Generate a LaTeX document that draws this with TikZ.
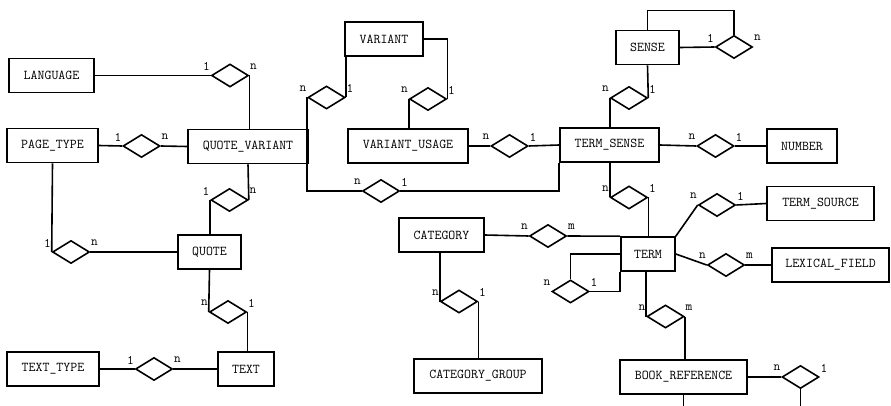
\documentclass[tikz,border=0pt]{standalone}
\usepackage{tikz}
\usetikzlibrary{shapes.geometric}

\begin{document}
\begin{tikzpicture}[x=1pt,y=-1pt,line width=1.6pt,
    entity/.style={draw,minimum height=34pt,inner sep=0pt,font=\ttfamily\fontsize{13.5}{16}\selectfont},
    card/.style={inner sep=0pt,yshift=9pt,font=\ttfamily\fontsize{13}{15}\selectfont},
    rel/.style 2 args={diamond,draw,minimum width=37pt,minimum height=23pt,inner sep=0pt,
      label distance=5pt,label={[card]left:#1},label={[card]right:#2}}]
    \useasboundingbox (0,0) rectangle (891,406);
    \node[entity,minimum width=85] (language) at (51.5,75.5) {LANGUAGE};
    \node[entity,minimum width=91] (pagetype) at (52.5,145.5) {PAGE\_TYPE};
    \node[entity,minimum width=120] (quotevar) at (248,146.5) {QUOTE\_VARIANT};
    \node[entity,minimum width=78] (variant) at (384,39) {VARIANT};
    \node[entity,minimum width=120] (varusage) at (408,146) {VARIANT\_USAGE};
    \node[entity,minimum width=99] (termsense) at (609.5,145) {TERM\_SENSE};
    \node[entity,minimum width=63] (sense) at (647.5,47.5) {SENSE};
    \node[entity,minimum width=70] (number) at (802,146) {NUMBER};
    \node[entity,minimum width=107] (termsource) at (820.5,203.5) {TERM\_SOURCE};
    \node[entity,minimum width=54] (term) at (648,254) {TERM};
    \node[entity,minimum width=117] (lexfield) at (830.5,265) {LEXICAL\_FIELD};
    \node[entity,minimum width=85] (category) at (441.5,235) {CATEGORY};
    \node[entity,minimum width=128] (catgroup) at (478,376) {CATEGORY\_GROUP};
    \node[entity,minimum width=127] (bookref) at (683.5,377) {BOOK\_REFERENCE};
    \node[entity,minimum width=63] (quote) at (209.5,252) {QUOTE};
    \node[entity,minimum width=92] (texttype) at (53,369) {TEXT\_TYPE};
    \node[entity,minimum width=56] (text) at (246,369) {TEXT};

    \node[rel={1}{n}] (rLang) at (230,75.5) {};
    \node[rel={1}{n}] (rPage) at (141.5,146) {};
    \node[rel={1}{n}] (rQvQuote) at (229.5,200) {};
    \node[rel={1}{n}] (rPageQuote) at (71,252) {};
    \node[rel={n}{1}] (rQuoteText) at (228,312) {};
    \node[rel={1}{n}] (rTextType) at (154,369) {};
    \node[rel={n}{1}] (rQvVariant) at (326.5,97.5) {};
    \node[rel={n}{1}] (rVarUsage) at (428,99) {};
    \node[rel={n}{1}] (rQvTs) at (381,191) {};
    \node[rel={n}{1}] (rUsageTs) at (509.5,146) {};
    \node[rel={n}{1}] (rSenseTs) at (629,98) {};
    \node[rel={1}{n}] (rSense) at (734,47) {};
    \node[rel={n}{1}] (rTsNumber) at (715.5,146) {};
    \node[rel={n}{1}] (rTsTerm) at (629,197.5) {};
    \node[rel={n}{1}] (rTermSource) at (717,205) {};
    \node[rel={n}{m}] (rTermLex) at (726,265) {};
    \node[rel={n}{m}] (rCatTerm) at (548,236) {};
    \node[rel={n}{1}] (rTerm) at (570.5,291.5) {};
    \node[rel={n}{m}] (rTermBook) at (665.5,316.5) {};
    \node[rel={n}{1}] (rBook) at (800.5,377) {};
    \node[rel={n}{1}] (rCatGroup) at (459,301.5) {};

    \draw (language.east) -- (rLang.west);
    \draw (rLang.east) -- (rLang.east |- quotevar.north);
    \draw (pagetype.east) -- (rPage.west);
    \draw (rPage.east) -- (quotevar.west);
    \draw (quotevar.south) -- (rQvQuote.east);
    \draw (rQvQuote.west) -- (rQvQuote.west |- quote.north);
    \draw (pagetype.south) -- (rPageQuote.west);
    \draw (rPageQuote.east) -- (quote.west);
    \draw (quote.south) -- (rQuoteText.west);
    \draw (rQuoteText.east) -- (rQuoteText.east |- text.north);
    \draw (texttype.east) -- (rTextType.west);
    \draw (rTextType.east) -- (text.west);
    \draw (rQvVariant.east) -- (rQvVariant.east |- variant.south);
    \draw (rQvVariant.west) |- (rQvTs.west);
    \draw (variant.east) -| (rVarUsage.east);
    \draw (rVarUsage.west) -- (rVarUsage.west |- varusage.north);
    \draw (rQvTs.east) -| (termsense.south west);
    \draw (varusage.east) -- (rUsageTs.west);
    \draw (rUsageTs.east) -- (termsense.west);
    \draw (sense.south) -- (rSenseTs.east);
    \draw (rSenseTs.west) -- (rSenseTs.west |- termsense.north);
    \draw (sense.east) -- (rSense.west);
    \draw (rSense.north) -- ++(0,-24) -| (sense.north);
    \draw (termsense.east) -- (rTsNumber.west);
    \draw (rTsNumber.east) -- (number.west);
    \draw (rTsTerm.west |- termsense.south) -- (rTsTerm.west);
    \draw (rTsTerm.east) -- (rTsTerm.east |- term.north);
    \draw (term.north east) -- (rTermSource.west);
    \draw (rTermSource.east) -- (termsource.west);
    \draw (term.east) -- (rTermLex.west);
    \draw (rTermLex.east) -- (lexfield.west);
    \draw (category.east) -- (rCatTerm.west);
    \draw (rCatTerm.east) -- (term.north west);
    \draw (rTerm.north) |- (term.west);
    \draw (rTerm.east) -| (term.south west);
    \draw (rTermBook.west |- term.south) -- (rTermBook.west);
    \draw (rTermBook.east) -- (rTermBook.east |- bookref.north);
    \draw (bookref.east) -- (rBook.west);
    \draw (rBook.south) -- ++(0,22) -| (bookref.south);
    \draw (rCatGroup.west |- category.south) -- (rCatGroup.west);
    \draw (rCatGroup.east) -- (rCatGroup.east |- catgroup.north);
  \end{tikzpicture}
\end{document}
